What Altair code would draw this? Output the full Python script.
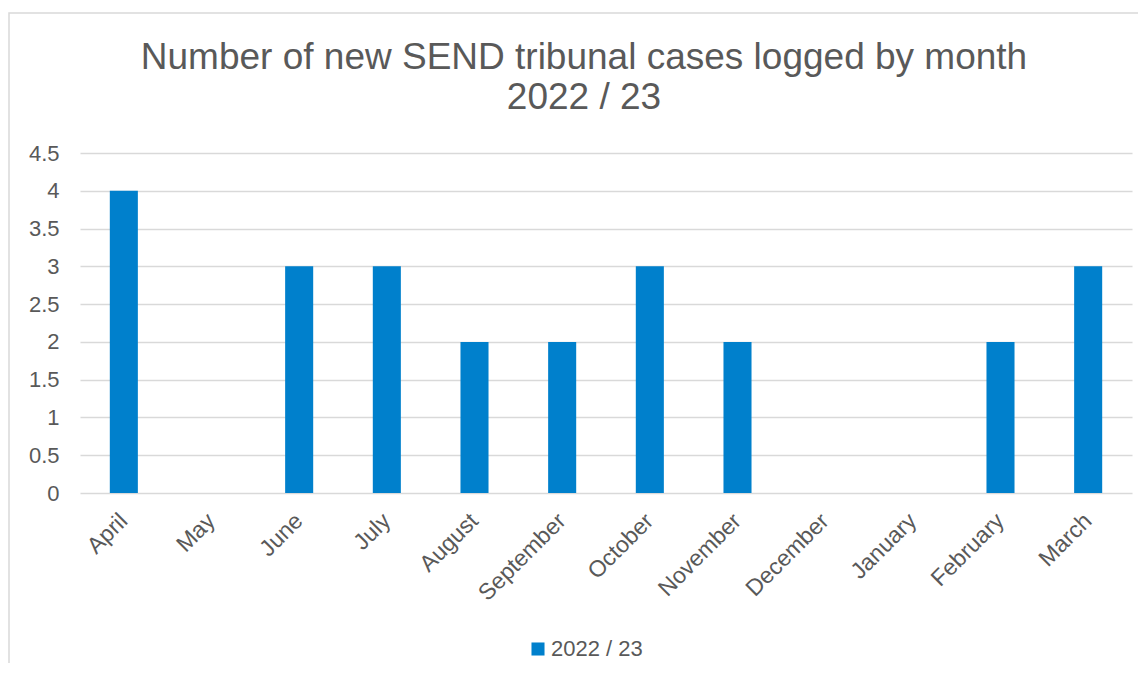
import altair as alt
import pandas as pd

months = ["April", "May", "June", "July", "August", "September", "October",
          "November", "December", "January", "February", "March"]
cases = [4, 0, 3, 3, 2, 2, 3, 2, 0, 0, 2, 3]
series_name = "2022 / 23"
y_ticks = [0, 0.5, 1, 1.5, 2, 2.5, 3, 3.5, 4, 4.5]

df = pd.DataFrame({"Month": months, "Cases": cases, "Series": [series_name] * len(months)})

FONT = "Liberation Sans"
GREY = "#595959"
BLUE = "#0080CC"

frame = alt.Chart(alt.Data(values=[{}])).mark_rect(
    fill="transparent", stroke="#D9D9D9", strokeWidth=1.5, clip=False
).encode(
    x=alt.value(-71), x2=alt.value(2000), y=alt.value(-140), y2=alt.value(2000)
)

bars = alt.Chart(df).mark_bar().encode(
    x=alt.X("Month:N", sort=months, title=None,
            scale=alt.Scale(paddingInner=0.68, paddingOuter=0.34),
            axis=alt.Axis(labelAngle=-45, labelAlign="right", labelBaseline="middle",
                          labelFontSize=23, labelColor=GREY, labelFont=FONT,
                          ticks=False, domain=False, labelPadding=24, labelOffset=0)),
    y=alt.Y("Cases:Q", title=None,
            scale=alt.Scale(domain=[0, 4.5], nice=False),
            axis=alt.Axis(values=y_ticks, format="~g", labelFontSize=22, labelColor=GREY,
                          labelFont=FONT, ticks=False, domain=False, labelPadding=21,
                          gridColor="#D9D9D9", gridWidth=1.3, labelFlush=False)),
    color=alt.Color("Series:N", scale=alt.Scale(range=[BLUE]), title=None,
                    legend=alt.Legend(orient="none", legendX=447, legendY=485,
                                      symbolType="square", symbolSize=170,
                                      symbolStrokeWidth=0, labelFontSize=22,
                                      labelColor=GREY, labelFont=FONT, labelOffset=2))
)

chart = alt.layer(frame, bars).properties(
    width=1052, height=340,
    autosize=alt.AutoSizeParams(type="none"),
    padding={"left": 72, "top": 145, "right": 6, "bottom": 170},
    title=alt.TitleParams(
        text=["Number of new SEND tribunal cases logged by month", "2022 / 23"],
        fontSize=37, font=FONT, color=GREY, fontWeight="normal",
        anchor="middle", dx=-22, offset=-134, lineHeight=40, baseline="alphabetic"
    )
).configure_view(stroke=None)

chart.save("out.html", embed_options={"renderer": "svg", "actions": False})
